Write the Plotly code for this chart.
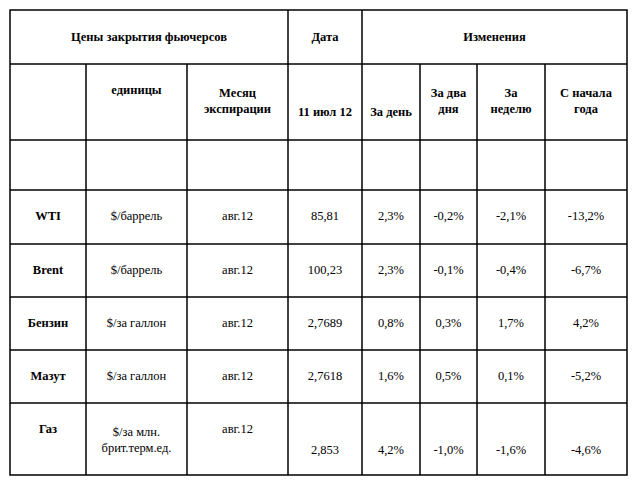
import plotly.graph_objects as go

products = ["WTI", "Brent", "Бензин", "Мазут", "Газ"]
units = ["$/баррель", "$/баррель", "$/за галлон", "$/за галлон", "$/за млн.<br>брит.терм.ед."]
months = ["авг.12"] * 5
prices = ["85,81", "100,23", "2,7689", "2,7618", "2,853"]
day = ["2,3%", "2,3%", "0,8%", "1,6%", "4,2%"]
two_days = ["-0,2%", "-0,1%", "0,3%", "0,5%", "-1,0%"]
week = ["-2,1%", "-0,4%", "1,7%", "0,1%", "-1,6%"]
ytd = ["-13,2%", "-6,7%", "4,2%", "-5,2%", "-4,6%"]
header_top = ["Цены закрытия фьючерсов", "Дата", "Изменения"]
header_sub = ["единицы", "Месяц<br>экспирации", "11 июл 12", "За день", "За два<br>дня", "За<br>неделю", "С начала<br>года"]

xs = [10, 86, 187, 288, 362, 420, 477, 545, 627]
ys = [10, 64, 140, 190, 244, 297, 350, 403, 475]

fig = go.Figure()
shapes = []
lw = 1.5
shapes.append(dict(type="rect", x0=xs[0], x1=xs[-1], y0=ys[0], y1=ys[-1], line=dict(color="black", width=lw)))
for y in ys[1:-1]:
    shapes.append(dict(type="line", x0=xs[0], x1=xs[-1], y0=y, y1=y, line=dict(color="black", width=lw)))
for i, x in enumerate(xs[1:-1], start=1):
    y0 = ys[0]
    if i in (1, 2, 5, 6, 7):
        y0 = ys[1]
    shapes.append(dict(type="line", x0=x, x1=x, y0=y0, y1=ys[-1], line=dict(color="black", width=lw)))

font_b = "<b>%s</b>"
tx, ty, tt = [], [], []
def add(x, y, t):
    tx.append(x); ty.append(y); tt.append(t)

add((xs[0] + xs[3]) / 2, 38, font_b % header_top[0])
add((xs[3] + xs[4]) / 2, 38, font_b % header_top[1])
add((xs[4] + xs[8]) / 2, 38, font_b % header_top[2])
sub_y = [91, 102, 113, 113, 102, 102, 102]
for i, t in enumerate(header_sub):
    add((xs[i + 1] + xs[i + 2]) / 2, sub_y[i], font_b % t)

cols = [units, months, prices, day, two_days, week, ytd]
for r in range(5):
    yc = (ys[r + 3] + ys[r + 4]) / 2
    if r == 4:
        add((xs[0] + xs[1]) / 2, 430, font_b % products[r])
        add((xs[1] + xs[2]) / 2, 441, units[r])
        add((xs[2] + xs[3]) / 2, 430, months[r])
        for c in range(2, 7):
            add((xs[c + 1] + xs[c + 2]) / 2, 451, cols[c][r])
    else:
        add((xs[0] + xs[1]) / 2, yc, font_b % products[r])
        for c in range(7):
            add((xs[c + 1] + xs[c + 2]) / 2, yc, cols[c][r])

fig.add_trace(go.Scatter(x=tx, y=ty, text=tt, mode="text", textposition="middle center",
                         textfont=dict(family="Liberation Serif", size=12.5, color="black"),
                         hoverinfo="skip", showlegend=False))

fig.update_layout(width=634, height=474, margin=dict(l=0, r=0, t=0, b=0),
                  paper_bgcolor="white", plot_bgcolor="white", shapes=shapes,
                  xaxis=dict(range=[8, 642], visible=False, fixedrange=True),
                  yaxis=dict(range=[482, 8], visible=False, fixedrange=True))
fig.write_html("out.html")
